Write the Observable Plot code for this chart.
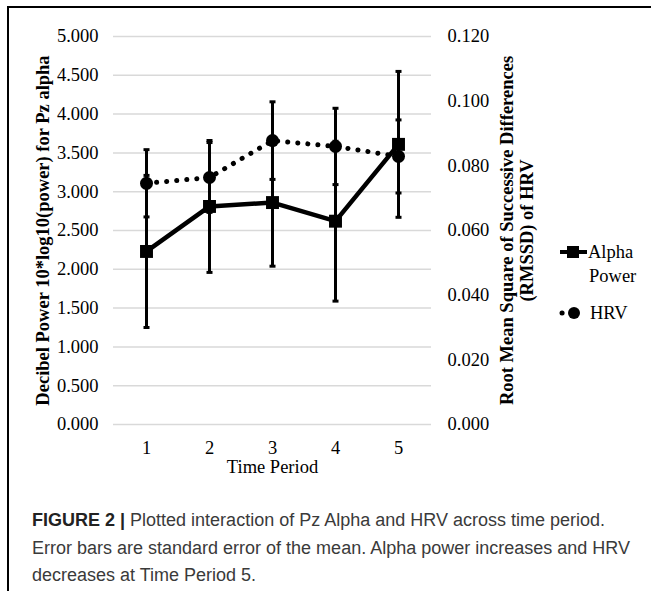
<!DOCTYPE html>
<html>
<head>
<meta charset="utf-8">
<script src="https://cdn.jsdelivr.net/npm/d3@7"></script>
<script src="https://cdn.jsdelivr.net/npm/@observablehq/plot@0.6"></script>
<style>
  html, body { margin: 0; padding: 0; background: #fff; }
  #page { position: relative; width: 651px; height: 591px; overflow: hidden; background: #fff; }
  #frame { position: absolute; left: 7px; top: 6px; right: -10px; bottom: -10px;
           border-left: 2px solid #000; border-top: 2px solid #000; }
  #chart { position: absolute; left: 0; top: 0; }
  #legend { position: absolute; left: 0; top: 0; }
  #caption { position: absolute; left: 32px; top: 507px; width: 615px;
             font-family: "Liberation Sans", Arial, sans-serif; font-size: 18px;
             line-height: 27.5px; color: #3a3a3a; }
  #caption div { white-space: nowrap; height: 27.5px; }
  #caption b { color: #222; margin-right: 5px; }
</style>
</head>
<body>
<div id="page">
  <div id="frame"></div>
  <div id="chart"></div>
  <svg id="legend" width="651" height="591"></svg>
  <div id="caption"></div>
</div>
<script>
// ---- data ----
const periods = [1, 2, 3, 4, 5];
const alphaMean = [2.23, 2.81, 2.86, 2.62, 3.61];
const alphaSE = [0.98, 0.85, 0.82, 1.03, 0.94];
const hrvMean = [0.0746, 0.0764, 0.0878, 0.0860, 0.0829];
const hrvSE = [0.0104, 0.0108, 0.0120, 0.0118, 0.0113];
const leftTicks = [0, 0.5, 1, 1.5, 2, 2.5, 3, 3.5, 4, 4.5, 5];
const rightTicks = [0, 0.02, 0.04, 0.06, 0.08, 0.1, 0.12];
const leftTitle = "Decibel Power 10*log10(power) for Pz alpha";
const rightTitle1 = "Root Mean Square of Successive Differences";
const rightTitle2 = "(RMSSD) of HRV";
const xTitle = "Time Period";
const seriesNames = ["Alpha", "Power", "HRV"];
const captionLabel = "FIGURE 2 |";
const captionLines = [
  "Plotted interaction of Pz Alpha and HRV across time period.",
  "Error bars are standard error of the mean. Alpha power increases and HRV",
  "decreases at Time Period 5."
];

// caption
const capEl = d3.select("#caption");
captionLines.forEach((line, i) => {
  const row = capEl.append("div");
  if (i === 0) row.append("b").text(captionLabel);
  row.append("span").text(line);
});

// right axis mapped onto left axis units
const k = 5 / 0.12;
const alpha = periods.map((p, i) => ({p, m: alphaMean[i], lo: alphaMean[i] - alphaSE[i], hi: alphaMean[i] + alphaSE[i]}));
const hrv = periods.map((p, i) => ({p, m: hrvMean[i] * k, lo: (hrvMean[i] - hrvSE[i]) * k, hi: (hrvMean[i] + hrvSE[i]) * k}));

const serif = "'Liberation Serif', 'Times New Roman', serif";
const cap = {draw(ctx) { ctx.rect(-3, -1.5, 6, 3); }};

const chart = Plot.plot({
  width: 651,
  height: 490,
  marginLeft: 113,
  marginRight: 220,
  marginTop: 36,
  marginBottom: 66,
  style: {fontFamily: serif, fontSize: "18.5px", color: "#000", background: "transparent"},
  x: {type: "point", domain: periods, padding: 0.5},
  y: {domain: [0, 5]},
  marks: [
    Plot.gridY(leftTicks, {stroke: "#d9d9d9", strokeOpacity: 1, strokeWidth: 1.5}),
    Plot.axisY(leftTicks, {anchor: "left", tickSize: 0, tickPadding: 15, tickFormat: d => d.toFixed(3), label: null, fontSize: "18.5px"}),
    Plot.axisY(rightTicks.map(v => v * k), {anchor: "right", tickSize: 0, tickPadding: 16, tickFormat: d => (d / k).toFixed(3), label: null, fontSize: "18.5px"}),
    Plot.axisX(periods, {anchor: "bottom", tickSize: 0, tickPadding: 16, label: null, fontSize: "18.5px"}),
    Plot.text([leftTitle], {frameAnchor: "left", textAnchor: "middle", lineAnchor: "middle", rotate: -90, dx: -70, fontWeight: "bold", fontSize: 18.5}),
    Plot.text([rightTitle1], {frameAnchor: "right", textAnchor: "middle", lineAnchor: "middle", rotate: -90, dx: 76, fontWeight: "bold", fontSize: 18.5}),
    Plot.text([rightTitle2], {frameAnchor: "right", textAnchor: "middle", lineAnchor: "middle", rotate: -90, dx: 96, fontWeight: "bold", fontSize: 18.5}),
    Plot.text([xTitle], {frameAnchor: "bottom", lineAnchor: "middle", dy: 43, fontSize: 18.5}),
    // HRV series (dotted)
    Plot.line(hrv, {x: "p", y: "m", stroke: "#000", strokeWidth: 5, strokeDasharray: "0.1,10", strokeLinecap: "round"}),
    Plot.ruleX(hrv, {x: "p", y1: "lo", y2: "hi", stroke: "#000", strokeWidth: 3}),
    Plot.dot(hrv, {x: "p", y: "lo", symbol: cap, r: 3, fill: "#000", stroke: null}),
    Plot.dot(hrv, {x: "p", y: "hi", symbol: cap, r: 3, fill: "#000", stroke: null}),
    Plot.dot(hrv, {x: "p", y: "m", symbol: "circle", r: 6.5, fill: "#000", stroke: null}),
    // Alpha series (solid)
    Plot.line(alpha, {x: "p", y: "m", stroke: "#000", strokeWidth: 4.5}),
    Plot.ruleX(alpha, {x: "p", y1: "lo", y2: "hi", stroke: "#000", strokeWidth: 3}),
    Plot.dot(alpha, {x: "p", y: "lo", symbol: cap, r: 3, fill: "#000", stroke: null}),
    Plot.dot(alpha, {x: "p", y: "hi", symbol: cap, r: 3, fill: "#000", stroke: null}),
    Plot.dot(alpha, {x: "p", y: "m", symbol: "square", r: 7.3, fill: "#000", stroke: null})
  ]
});
document.getElementById("chart").appendChild(chart);

// legend
const lg = d3.select("#legend");
lg.append("line").attr("x1", 560).attr("x2", 587).attr("y1", 252).attr("y2", 252).attr("stroke", "#000").attr("stroke-width", 4);
lg.append("rect").attr("x", 567).attr("y", 246).attr("width", 12).attr("height", 12).attr("fill", "#000");
lg.append("line").attr("x1", 562).attr("x2", 586).attr("y1", 313).attr("y2", 313).attr("stroke", "#000").attr("stroke-width", 5).attr("stroke-dasharray", "0.1,24").attr("stroke-linecap", "round");
lg.append("circle").attr("cx", 574).attr("cy", 313).attr("r", 6).attr("fill", "#000");
const txt = (s, x, y) => lg.append("text").attr("x", x).attr("y", y).attr("dy", "0.35em").attr("font-family", serif).attr("font-size", 18.5).text(s);
txt(seriesNames[0], 588, 252);
txt(seriesNames[1], 589, 276);
txt(seriesNames[2], 590, 313);
</script>
</body>
</html>
